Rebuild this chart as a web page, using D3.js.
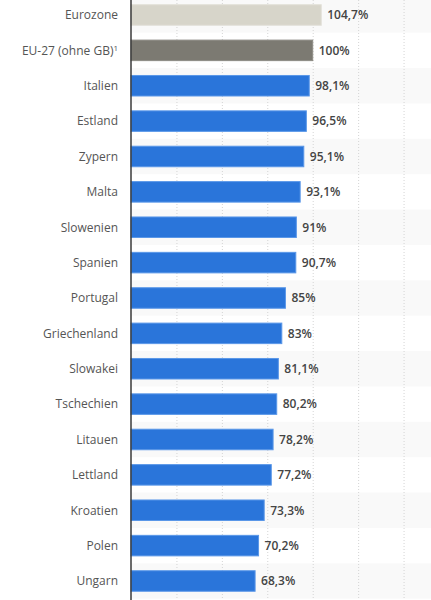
<!DOCTYPE html>
<html lang="de">
<head>
<meta charset="utf-8">
<title>Balkendiagramm</title>
<style>
body { margin:0; background:#fff; }
text { font-family:"Open Sans","DejaVu Sans","sans-serif"; }
</style>
<script src="https://cdn.jsdelivr.net/npm/d3@7"></script>
</head>
<body>
<div id="chart"></div>
<script>
var countries = ["Eurozone", "EU-27 (ohne GB)", "Italien", "Estland", "Zypern", "Malta",
                 "Slowenien", "Spanien", "Portugal", "Griechenland", "Slowakei",
                 "Tschechien", "Litauen", "Lettland", "Kroatien", "Polen", "Ungarn"];
var values = [104.7, 100, 98.1, 96.5, 95.1, 93.1, 91, 90.7, 85, 83, 81.1, 80.2, 78.2, 77.2, 73.3, 70.2, 68.3];
var ticks = [0, 25, 50, 75, 100, 125, 150];

var width = 431, height = 600,
    marginLeft = 131, marginTop = -2.7;

var data = countries.map(function(c, i) { return { name: c, value: values[i], i: i }; });

var svg = d3.select("#chart").append("svg")
    .attr("width", width)
    .attr("height", height);

var x = d3.scaleLinear().domain([0, 100]).range([marginLeft, marginLeft + 181.7]);
var y = d3.scaleBand().domain(countries)
    .range([marginTop, marginTop + 35.375 * countries.length])
    .paddingInner(0.42).paddingOuter(0.21);

function barColor(d) {
    if (d.i === 0) return "#d7d5ca";
    if (d.i === 1) return "#7c7a72";
    return "#2a75da";
}
function barStroke(d) {
    if (d.i === 0) return "#e2e0d8";
    if (d.i === 1) return "#8d8b84";
    return "#5a97e8";
}

// alternating row bands
svg.selectAll("rect.band")
    .data(data.filter(function(d) { return d.i % 2 === 0; }))
    .enter()
    .append("rect")
        .attr("class", "band")
        .attr("x", marginLeft)
        .attr("width", width - marginLeft)
        .attr("y", function(d) { return y(d.name) + y.bandwidth() / 2 - y.step() / 2; })
        .attr("height", y.step())
        .style("fill", "#f9f9f9");

// dotted grid lines
svg.selectAll("line.grid")
    .data(ticks.slice(1))
    .enter()
    .append("line")
        .attr("class", "grid")
        .attr("x1", function(d) { return x(d) + 0.5; })
        .attr("x2", function(d) { return x(d) + 0.5; })
        .attr("y1", 0)
        .attr("y2", height)
        .style("stroke", "#d4d4d4")
        .style("stroke-width", "1px")
        .style("stroke-dasharray", "1,2");

svg.selectAll("rect.bar")
    .data(data)
    .enter()
    .append("rect")
        .attr("class", "bar")
        .attr("x", x(0))
        .attr("y", function(d) { return y(d.name); })
        .attr("width", function(d) { return x(d.value) - x(0); })
        .attr("height", y.bandwidth())
        .style("fill", barColor)
        .style("stroke", barStroke)
        .style("stroke-width", "1px");

// axis line
svg.append("line")
    .attr("x1", marginLeft).attr("x2", marginLeft)
    .attr("y1", 0).attr("y2", height)
    .style("stroke", "#3a3a3a")
    .style("stroke-width", "1.5px");

// category labels
var labels = svg.selectAll("text.cat")
    .data(data)
    .enter()
    .append("text")
        .attr("class", "cat")
        .attr("x", marginLeft - 13)
        .attr("y", function(d) { return y(d.name) + y.bandwidth() / 2; })
        .attr("dy", "0.36em")
        .attr("text-anchor", "end")
        .style("font-size", "12px")
        .style("fill", "#555");
labels.append("tspan").text(function(d) { return d.name; });
labels.filter(function(d) { return d.i === 1; })
    .append("tspan")
        .attr("dy", "-0.5em")
        .style("font-size", "8px")
        .text("1");

// value labels
svg.selectAll("text.val")
    .data(data)
    .enter()
    .append("text")
        .attr("class", "val")
        .attr("x", function(d) { return x(d.value) + 6; })
        .attr("y", function(d) { return y(d.name) + y.bandwidth() / 2; })
        .attr("dy", "0.36em")
        .style("font-size", "12px")
        .style("font-weight", "600")
        .style("fill", "#444")
        .text(function(d) { return String(d.value).replace(".", ",") + "%"; });
</script>
</body>
</html>
